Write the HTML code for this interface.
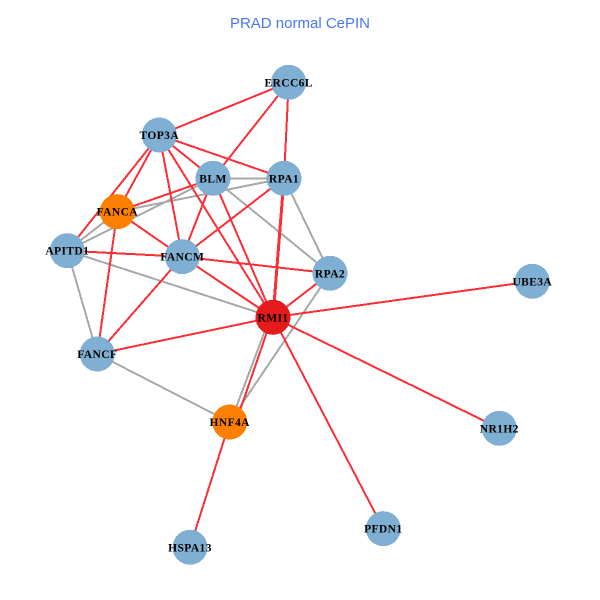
<!DOCTYPE html>
<html>
<head>
<meta charset="utf-8">
<style>
html,body{margin:0;padding:0;background:#fff;width:600px;height:600px;overflow:hidden}
svg{display:block}
.l text{font-family:"Liberation Serif",serif;font-weight:bold;font-size:11.5px;fill:#000;text-anchor:middle;letter-spacing:.4px}
line,circle{shape-rendering:crispEdges}
</style>
</head>
<body>
<svg width="600" height="600" viewBox="0 0 600 600" xmlns="http://www.w3.org/2000/svg">
<rect width="600" height="600" fill="#fff"/>
<text x="300" y="28" text-anchor="middle" style="font-family:'Liberation Sans',sans-serif;font-size:15px;fill:#4a76f0">PRAD normal CePIN</text>
<g stroke="#a8a8a8" stroke-width="2" fill="none">
<line x1="213" y1="178.3" x2="284" y2="178.3"/>
<line x1="213" y1="178.3" x2="67.3" y2="250.7"/>
<line x1="284" y1="178.3" x2="117.3" y2="211.7"/>
<line x1="213" y1="178.3" x2="330" y2="273.3"/>
<line x1="284" y1="178.3" x2="330" y2="273.3"/>
<line x1="67.3" y1="250.7" x2="117.3" y2="211.7"/>
<line x1="67.3" y1="250.7" x2="273" y2="317.3"/>
<line x1="67.3" y1="250.7" x2="97.3" y2="354"/>
<line x1="97.3" y1="354" x2="229.7" y2="422"/>
<line x1="270" y1="317.3" x2="230.6" y2="422"/>
<line x1="330" y1="273.3" x2="229.7" y2="422"/>
</g>
<g stroke="#fb2f35" stroke-width="2" fill="none">
<line x1="159.3" y1="135" x2="288.7" y2="82.3"/>
<line x1="159.3" y1="135" x2="284" y2="178.3"/>
<line x1="159.3" y1="135" x2="213" y2="178.3"/>
<line x1="159.3" y1="135" x2="117.3" y2="211.7"/>
<line x1="159.3" y1="135" x2="67.3" y2="250.7"/>
<line x1="159.3" y1="135" x2="182.3" y2="256.7"/>
<line x1="159.3" y1="135" x2="273" y2="317.3"/>
<line x1="288.7" y1="82.3" x2="213" y2="178.3"/>
<line x1="288.7" y1="82.3" x2="284" y2="178.3"/>
<line x1="213" y1="178.3" x2="117.3" y2="211.7"/>
<line x1="213" y1="178.3" x2="182.3" y2="256.7"/>
<line x1="213" y1="178.3" x2="273" y2="317.3"/>
<line x1="284" y1="178.3" x2="182.3" y2="256.7"/>
<line x1="284" y1="178.3" x2="273" y2="317.3" stroke-width="3"/>
<line x1="117.3" y1="211.7" x2="182.3" y2="256.7"/>
<line x1="117.3" y1="211.7" x2="97.3" y2="354"/>
<line x1="67.3" y1="250.7" x2="182.3" y2="256.7"/>
<line x1="182.3" y1="256.7" x2="330" y2="273.3"/>
<line x1="182.3" y1="256.7" x2="273" y2="317.3"/>
<line x1="182.3" y1="256.7" x2="97.3" y2="354"/>
<line x1="97.3" y1="354" x2="273" y2="317.3"/>
<line x1="330" y1="273.3" x2="273" y2="317.3"/>
<line x1="273" y1="317.3" x2="532.3" y2="281.3"/>
<line x1="273" y1="317.3" x2="499.3" y2="428.3"/>
<line x1="273" y1="317.3" x2="383.3" y2="528.7"/>
<line x1="272" y1="317.3" x2="236" y2="422"/>
<line x1="229.7" y1="422" x2="190" y2="547.3"/>
</g>
<g>
<circle cx="159.3" cy="135" r="17.5" fill="#7fafd2"/>
<circle cx="213" cy="178.3" r="17.5" fill="#7fafd2"/>
<circle cx="117.3" cy="211.7" r="17.5" fill="#ff7f00"/>
<circle cx="67.3" cy="250.7" r="17.5" fill="#7fafd2"/>
<circle cx="182.3" cy="256.7" r="17.5" fill="#7fafd2"/>
<circle cx="288.7" cy="82.3" r="17.5" fill="#7fafd2"/>
<circle cx="284" cy="178.3" r="17.5" fill="#7fafd2"/>
<circle cx="330" cy="273.3" r="17.5" fill="#7fafd2"/>
<circle cx="273" cy="317.3" r="17.5" fill="#e41a1c"/>
<circle cx="229.7" cy="422" r="17.5" fill="#ff7f00"/>
<circle cx="97.3" cy="354" r="17.5" fill="#7fafd2"/>
<circle cx="532.3" cy="281.3" r="17.5" fill="#7fafd2"/>
<circle cx="499.3" cy="428.3" r="17.5" fill="#7fafd2"/>
<circle cx="383.3" cy="528.7" r="17.5" fill="#7fafd2"/>
<circle cx="190" cy="547.3" r="17.5" fill="#7fafd2"/>
</g>
<g class="l">
<text x="159.3" y="139">TOP3A</text>
<text x="213" y="182.3">BLM</text>
<text x="117.3" y="215.7">FANCA</text>
<text x="67.3" y="254.7">APITD1</text>
<text x="182.3" y="260.7">FANCM</text>
<text x="288.7" y="86.3">ERCC6L</text>
<text x="284" y="182.3">RPA1</text>
<text x="330" y="277.3">RPA2</text>
<text x="273" y="321.3">RMI1</text>
<text x="229.7" y="426">HNF4A</text>
<text x="97.3" y="358">FANCF</text>
<text x="532.3" y="285.3">UBE3A</text>
<text x="499.3" y="432.3">NR1H2</text>
<text x="383.3" y="532.7">PFDN1</text>
<text x="190" y="551.3">HSPA13</text>
</g>
</svg>
</body>
</html>
